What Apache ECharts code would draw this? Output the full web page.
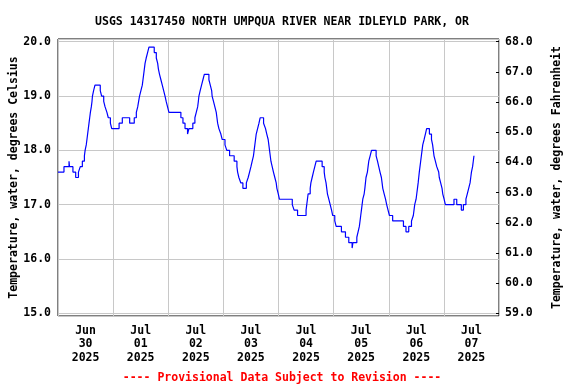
<!DOCTYPE html>
<html>
<head>
<meta charset="utf-8">
<script src="https://cdn.jsdelivr.net/npm/echarts@6/dist/echarts.min.js"></script>
<style>
html,body{margin:0;padding:0;background:#fff;}
#chart{width:576px;height:384px;}
</style>
</head>
<body>
<div id="chart"></div>
<script>
const titleText = 'USGS 14317450 NORTH UMPQUA RIVER NEAR IDLEYLD PARK, OR';
const footerText = '---- Provisional Data Subject to Revision ----';
const leftAxisName = 'Temperature, water, degrees Celsius';
const rightAxisName = 'Temperature, water, degrees Fahrenheit';
const dayLabels = ['Jun\n30\n2025','Jul\n01\n2025','Jul\n02\n2025','Jul\n03\n2025','Jul\n04\n2025','Jul\n05\n2025','Jul\n06\n2025','Jul\n07\n2025'];
// hours since 2025-06-30 00:00 at which the reading changes
const hours = [0,2.6,4.8,5.0,6.5,7.7,8.9,9.7,10.6,11.5,11.8,12.3,12.6,12.9,13.2,13.5,13.8,14.1,14.5,14.8,15.0,15.5,16.1,18.4,19.0,19.9,20.5,21.3,21.9,22.8,23.4,26.6,28.0,31.2,33.2,34.1,34.7,35.1,35.5,36.1,36.7,37.0,37.3,37.6,37.9,38.4,39.0,39.6,41.9,42.8,43.4,43.7,44.2,44.8,45.4,46.0,46.6,47.1,47.7,48.3,53.5,54.4,55.3,56.4,57.0,58.7,59.6,60.2,60.8,61.1,61.35,61.9,62.5,63.1,63.7,65.7,66.3,66.9,67.1,67.7,68.3,68.9,69.2,69.5,70.05,70.9,71.5,72.7,73.5,74.7,76.7,77.9,78.2,78.75,79.6,80.5,82.0,82.8,83.4,84.0,84.55,85.1,85.4,85.7,86.0,86.3,86.9,87.5,88.0,89.5,90.35,90.9,91.5,91.8,92.1,92.4,92.7,93.25,93.8,94.4,95.0,95.3,95.9,96.4,102.0,102.8,104.3,108.0,108.3,108.6,108.9,109.8,110.1,110.65,111.2,111.8,112.4,115.0,115.9,116.2,116.7,117.0,117.3,117.9,118.5,119.1,119.6,120.5,121.1,123.4,125.15,126.6,128.05,128.4,130.1,130.65,131.2,131.5,131.8,132.1,132.4,132.7,133.3,133.6,133.85,134.1,134.7,135.0,135.3,135.9,136.5,138.5,139.1,139.65,140.2,140.8,141.1,141.4,142.0,142.6,143.1,143.7,144.3,145.7,150.4,151.5,152.7,153.9,154.7,155.0,155.3,155.9,156.2,156.5,156.8,157.05,157.3,157.6,157.9,158.2,158.5,158.8,159.4,159.95,160.5,161.7,162.6,163.1,163.4,163.7,164.3,164.9,165.75,166.0,166.6,167.2,167.5,168.1,168.65,172.4,173.6,175.6,176.5,177.6,178.2,178.8,179.4,179.7,180.0,180.5,180.8,181.1];
const tempC = [17.6,17.7,17.8,17.7,17.6,17.5,17.6,17.7,17.8,17.9,18.0,18.1,18.2,18.3,18.4,18.5,18.6,18.7,18.8,18.9,19.0,19.1,19.2,19.1,19.0,18.9,18.8,18.7,18.6,18.5,18.4,18.5,18.6,18.5,18.6,18.7,18.8,18.9,19.0,19.1,19.2,19.3,19.4,19.5,19.6,19.7,19.8,19.9,19.8,19.7,19.6,19.5,19.4,19.3,19.2,19.1,19.0,18.9,18.8,18.7,18.6,18.5,18.4,18.3,18.4,18.5,18.6,18.7,18.8,18.9,19.0,19.1,19.2,19.3,19.4,19.3,19.2,19.1,19.0,18.9,18.8,18.7,18.6,18.5,18.4,18.3,18.2,18.1,18.0,17.9,17.8,17.7,17.6,17.5,17.4,17.3,17.4,17.5,17.6,17.7,17.8,17.9,18.0,18.1,18.2,18.3,18.4,18.5,18.6,18.5,18.4,18.3,18.2,18.1,18.0,17.9,17.8,17.7,17.6,17.5,17.4,17.3,17.2,17.1,17.0,16.9,16.8,16.9,17.0,17.1,17.2,17.3,17.4,17.5,17.6,17.7,17.8,17.7,17.6,17.5,17.4,17.3,17.2,17.1,17.0,16.9,16.8,16.7,16.6,16.5,16.4,16.3,16.2,16.3,16.4,16.5,16.6,16.7,16.8,16.9,17.0,17.1,17.2,17.3,17.4,17.5,17.6,17.7,17.8,17.9,18.0,17.9,17.8,17.7,17.6,17.5,17.4,17.3,17.2,17.1,17.0,16.9,16.8,16.7,16.6,16.5,16.6,16.7,16.8,16.9,17.0,17.1,17.2,17.3,17.4,17.5,17.6,17.7,17.8,17.9,18.0,18.1,18.2,18.3,18.4,18.3,18.2,18.1,18.0,17.9,17.8,17.7,17.6,17.5,17.4,17.3,17.2,17.1,17.0,17.1,17.0,16.9,17.0,17.1,17.2,17.3,17.4,17.5,17.6,17.7,17.8,17.9];
const cMin = 14.95, cMax = 20.05;
const toF = c => c * 1.8 + 32;

const FONT = 'DejaVu Sans Mono';
const FS = 11.5;
const lbl = v => (Math.abs(v - Math.round(v)) < 1e-6 ? v.toFixed(1) : '');

const chart = echarts.init(document.getElementById('chart'), null, {renderer: 'canvas'});
chart.setOption({
  animation: false,
  backgroundColor: '#fff',
  title: [
    {text: titleText, left: 277, top: 11, textAlign: 'center',
     textStyle: {fontFamily: FONT, fontWeight: 'bold', fontSize: FS, color: '#000'}},
    {text: footerText, left: 277, top: 367, textAlign: 'center',
     textStyle: {fontFamily: FONT, fontWeight: 'bold', fontSize: FS, color: '#ff0000'}}
  ],
  grid: {left: 58, right: 77, top: 39, bottom: 68, show: true, borderColor: '#000', borderWidth: 1,
         containLabel: false, outerBoundsMode: 'none'},
  xAxis: [
    {type: 'value', min: 0, max: 192, interval: 24, axisLine: {show: false}, axisTick: {show: false},
     axisLabel: {show: false}, splitLine: {show: true, lineStyle: {color: '#c8c8c8', width: 1}}},
    {type: 'category', data: dayLabels, boundaryGap: true, position: 'bottom',
     axisLine: {show: false}, axisTick: {show: false}, splitLine: {show: false},
     axisLabel: {interval: 0, margin: 8, fontFamily: FONT, fontWeight: 'bold', fontSize: FS, lineHeight: 13.5, color: '#000'}}
  ],
  yAxis: [
    {type: 'value', min: cMin, max: cMax, minInterval: 1, maxInterval: 1, position: 'left',
     name: leftAxisName, nameLocation: 'middle', nameGap: 38, nameMoveOverlap: false,
     nameTextStyle: {fontFamily: FONT, fontWeight: 'bold', fontSize: FS, color: '#000'},
     axisLine: {show: false}, axisTick: {show: false},
     axisLabel: {margin: 7, formatter: lbl, showMinLabel: false, showMaxLabel: false, fontFamily: FONT, fontWeight: 'bold', fontSize: FS, color: '#000'},
     splitLine: {show: true, lineStyle: {color: '#c8c8c8', width: 1}}},
    {type: 'value', min: toF(cMin), max: toF(cMax), splitNumber: 9, minInterval: 1, maxInterval: 1, position: 'right',
     name: rightAxisName, nameLocation: 'middle', nameGap: 52, nameRotate: 90, nameMoveOverlap: false,
     nameTextStyle: {fontFamily: FONT, fontWeight: 'bold', fontSize: FS, color: '#000'},
     axisLine: {show: false}, axisTick: {show: true, inside: true, length: 3, lineStyle: {color: '#000'}},
     axisLabel: {margin: 6, formatter: lbl, showMinLabel: false, showMaxLabel: false, fontFamily: FONT, fontWeight: 'bold', fontSize: FS, color: '#000'},
     splitLine: {show: false}}
  ],
  series: [{
    type: 'line', xAxisIndex: 0, yAxisIndex: 0, step: 'end', showSymbol: false, symbol: 'none',
    lineStyle: {color: '#0000ff', width: 1.2}, data: hours.map((h, i) => [h, tempC[i]])
  }]
});
</script>
</body>
</html>
